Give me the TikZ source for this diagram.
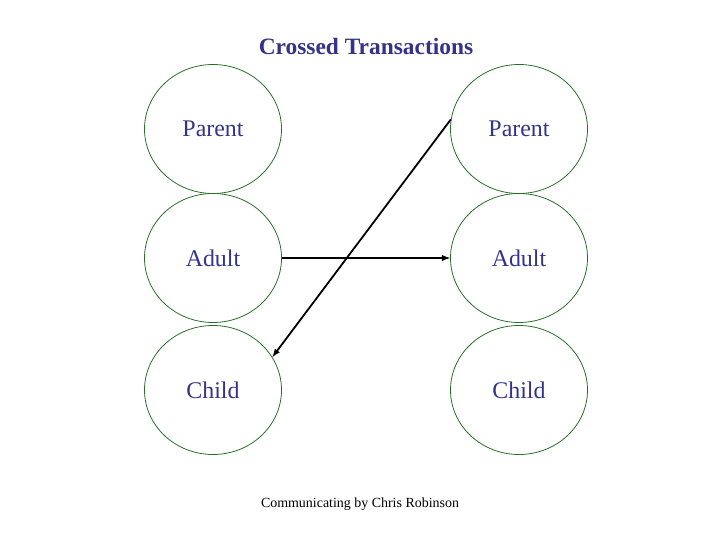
\documentclass[tikz,border=0pt]{standalone}
\usepackage{fontspec}
\setmainfont{Liberation Serif}
\usetikzlibrary{shapes.geometric,arrows}
\definecolor{egoline}{RGB}{40,110,40}
\definecolor{egotext}{RGB}{51,51,140}

\tikzset{
	ego/.style={ellipse, draw=egoline, line width=0.8pt, minimum width=137bp, minimum height=129bp, inner sep=0pt, text=egotext, font=\fontsize{24}{28}\selectfont},
	msg/.style={-latex, line width=1.8pt, black}
}

\begin{document}
\begin{tikzpicture}[x=1bp, y=-1bp]
\useasboundingbox (0,0) rectangle (720,540);
\node[text=egotext, font=\fontsize{23.5}{26}\selectfont\bfseries](title) at (366,46){Crossed Transactions};
\node[ego](lp) at (213,129){Parent};
\node[ego](la) at (213,258){Adult};
\node[ego](lc) at (213,390){Child};
\node[ego](rp) at (519,129){Parent};
\node[ego](ra) at (519,258){Adult};
\node[ego](rc) at (519,390){Child};
\node[font=\fontsize{14}{16}\selectfont](foot) at (360,504){Communicating by Chris Robinson};

\draw[msg](la.east)--(ra.west);
\draw[msg](rp.172)--(lc.29);
\end{tikzpicture}
\end{document}
